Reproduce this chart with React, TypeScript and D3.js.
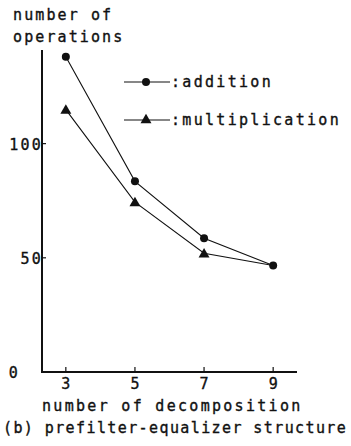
import * as d3 from "d3";
import { useEffect, useRef } from "react";

const decompositions = [3, 5, 7, 9];
const additionOps = [138, 83.5, 58.6, 46.6];
const multiplicationOps = [114.9, 74.4, 52, 46.6];
const yTicks = [0, 50, 100];

const FONT = "'DejaVu Sans Mono', monospace";

export default function App() {
  const ref = useRef<SVGSVGElement | null>(null);

  useEffect(() => {
    if (!ref.current) return;
    const svg = d3.select(ref.current);
    svg.selectAll("*").remove();

    const x = d3.scaleLinear().domain([2.31, 9.69]).range([42, 297]);
    const y = d3.scaleLinear().domain([0, 141]).range([372, 50]);

    // axes
    svg
      .append("line")
      .attr("x1", x(2.31))
      .attr("x2", x(2.31))
      .attr("y1", y(0) + 1)
      .attr("y2", y(141))
      .attr("stroke", "#111")
      .attr("stroke-width", 2);
    svg
      .append("line")
      .attr("x1", x(2.31))
      .attr("x2", x(9.69))
      .attr("y1", y(0))
      .attr("y2", y(0))
      .attr("stroke", "#111")
      .attr("stroke-width", 2);

    const styleText = (sel: d3.Selection<SVGTextElement, any, any, any>, ls: number) =>
      sel
        .style("font-family", FONT)
        .style("font-size", "15px")
        .style("letter-spacing", `${ls}px`)
        .attr("fill", "#111")
        .attr("stroke", "#111")
        .attr("stroke-width", 0.35);

    // y ticks
    svg
      .selectAll("line.yt")
      .data(yTicks.filter((d) => d > 0))
      .enter()
      .append("line")
      .attr("class", "yt")
      .attr("x1", x(2.31))
      .attr("x2", x(2.31) + 4)
      .attr("y1", (d) => y(d))
      .attr("y2", (d) => y(d))
      .attr("stroke", "#111")
      .attr("stroke-width", 1.2);
    styleText(
      svg
        .selectAll<SVGTextElement, number>("text.yl")
        .data(yTicks)
        .enter()
        .append("text")
        .attr("class", "yl")
        .attr("x", (d) => (d === 0 ? 20 : x(2.31) + 1))
        .attr("y", (d) => y(d) + 6)
        .attr("text-anchor", "end")
        .text((d) => d),
      2.2
    );

    // x ticks
    svg
      .selectAll("line.xt")
      .data(decompositions)
      .enter()
      .append("line")
      .attr("class", "xt")
      .attr("x1", (d) => x(d))
      .attr("x2", (d) => x(d))
      .attr("y1", y(0))
      .attr("y2", y(0) - 5)
      .attr("stroke", "#111")
      .attr("stroke-width", 1.2);
    styleText(
      svg
        .selectAll<SVGTextElement, number>("text.xl")
        .data(decompositions)
        .enter()
        .append("text")
        .attr("class", "xl")
        .attr("x", (d) => x(d))
        .attr("y", y(0) + 17)
        .attr("text-anchor", "middle")
        .text((d) => d),
      0
    );

    const line = d3
      .line<number>()
      .x((_, i) => x(decompositions[i]))
      .y((d) => y(d));

    svg
      .append("path")
      .attr("d", line(additionOps)!)
      .attr("fill", "none")
      .attr("stroke", "#111")
      .attr("stroke-width", 1.1);
    svg
      .append("path")
      .attr("d", line(multiplicationOps)!)
      .attr("fill", "none")
      .attr("stroke", "#111")
      .attr("stroke-width", 1.1);

    const tri = d3.symbol().type(d3.symbolTriangle).size(52);

    svg
      .selectAll("circle.add")
      .data(additionOps)
      .enter()
      .append("circle")
      .attr("class", "add")
      .attr("cx", (_, i) => x(decompositions[i]))
      .attr("cy", (d) => y(d))
      .attr("r", 4)
      .attr("fill", "#111");
    svg
      .selectAll("path.mul")
      .data(multiplicationOps.slice(0, 3))
      .enter()
      .append("path")
      .attr("class", "mul")
      .attr("d", tri()!)
      .attr("transform", (d, i) => `translate(${x(decompositions[i])},${y(d) + 1})`)
      .attr("fill", "#111");

    // legend
    const legend = [
      { label: ":addition", ly: 82, kind: "circle" },
      { label: ":multiplication", ly: 120, kind: "tri" },
    ];
    legend.forEach((l) => {
      svg
        .append("line")
        .attr("x1", 124)
        .attr("x2", 170)
        .attr("y1", l.ly)
        .attr("y2", l.ly)
        .attr("stroke", "#111")
        .attr("stroke-width", 1.1);
      if (l.kind === "circle") {
        svg.append("circle").attr("cx", 146).attr("cy", l.ly).attr("r", 4).attr("fill", "#111");
      } else {
        svg
          .append("path")
          .attr("d", tri()!)
          .attr("transform", `translate(146,${l.ly})`)
          .attr("fill", "#111");
      }
      styleText(
        svg.append("text").attr("x", 171).attr("y", l.ly + 5).text(l.label),
        2.3
      );
    });

    const addText = (t: string, tx: number, ty: number, ls: number) =>
      styleText(svg.append("text").attr("x", tx).attr("y", ty).text(t), ls);

    addText("number of", 13, 20, 2.1);
    addText("operations", 13, 42, 2.1);
    addText("number of decomposition", 42, 411, 2.3);
    addText("(b) prefilter-equalizer structure", 3, 433, 1.4);
  }, []);

  return (
    <svg
      ref={ref}
      width={351}
      height={446}
      style={{ position: "absolute", left: 0, top: 0, background: "#fff" }}
    />
  );
}
